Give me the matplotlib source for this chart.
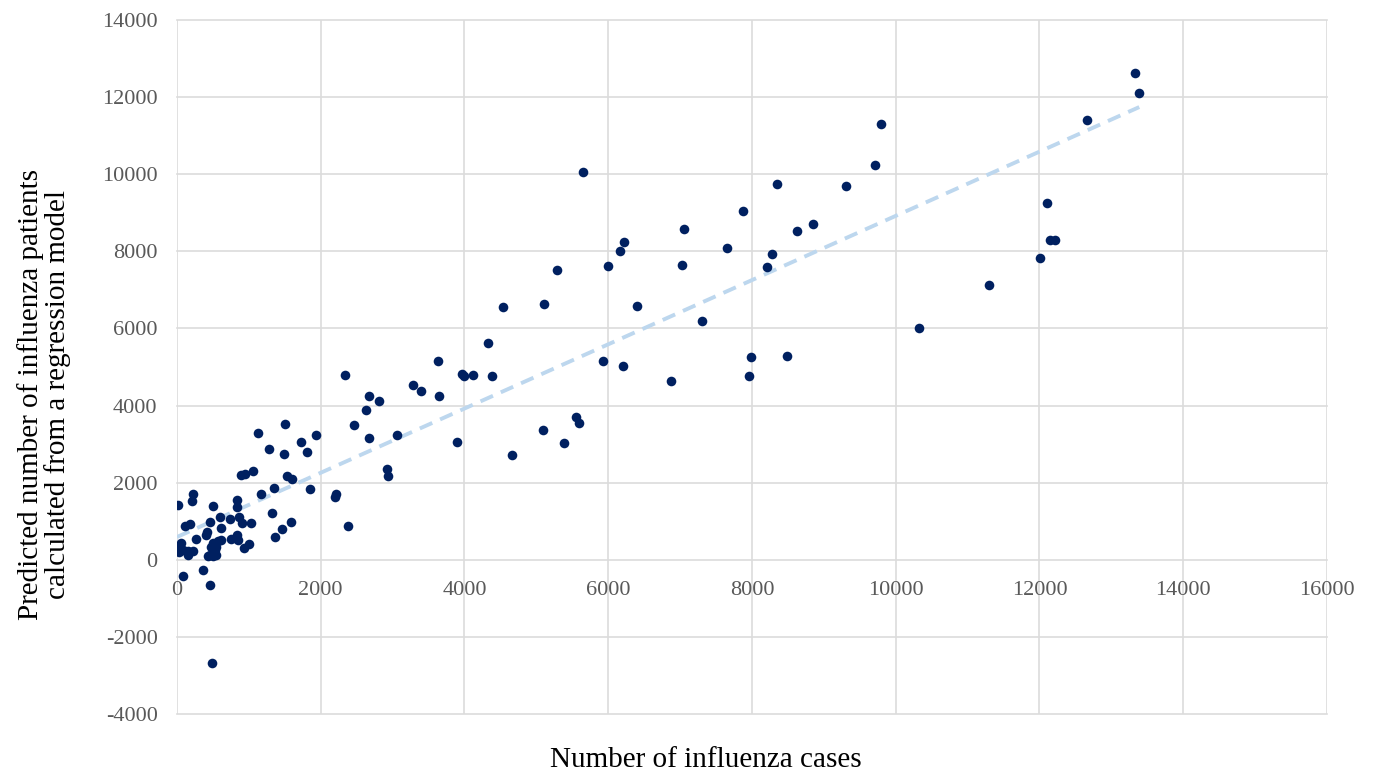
"""Scatter of influenza cases vs. regression-model predictions, with linear trendline."""

import matplotlib

matplotlib.use("Agg")

import matplotlib.pyplot as plt
import numpy as np

plt.rcParams["font.family"] = ["Liberation Serif", "DejaVu Serif"]
plt.rcParams["axes.unicode_minus"] = False

# observed number of influenza cases
cases = [
    20, 225, 215, 505, 830, 840, 605, 455, 735, 865, 1035, 905, 115, 178, 615, 420, 405, 268,
    60, 37, 85, 153, 225, 28, 157, 500, 570, 617, 475, 543, 524, 455, 501, 430, 538, 756, 835,
    849, 932, 1000, 1363, 1460, 1590, 1326, 1164, 1350, 83, 364, 462, 483, 890, 946, 1062, 1123,
    1280, 1503, 1493, 1526, 1596, 1730, 1804, 1934, 1850, 2198, 2212, 2375,
    2337, 2671, 2814, 2630, 2463, 2675, 3056, 2918, 2940, 3279, 3390, 3627, 3650, 3961, 3993,
    4114, 4378, 4323, 3900, 4657, 5097, 5384, 5547, 5593, 5931, 6210,
    5653, 5291, 6000, 6163, 6219, 7054, 7030, 7648, 7870, 8348, 8274, 8204, 8630, 8844, 9308,
    9707, 4540, 5110, 6400, 7309, 6877, 7981, 7962, 8491,
    13329, 13388, 12657, 9799, 12109, 12146, 12220, 12007, 11301, 10317,
]
# predicted number of patients from the regression model
predicted = [
    1410, 1700, 1520, 1400, 1550, 1370, 1120, 990, 1060, 1100, 960, 950, 885, 920, 820, 715, 650, 535,
    433, 303, 260, 215, 240, 190, 130, 433, 475, 519, 337, 337, 241, 130, 104, 100, 130, 536, 648,
    519, 295, 400, 580, 796, 968, 1215, 1708, 1850, -425, -259, -648, -2680, 2186, 2222, 2308, 3285,
    2879, 3527, 2741, 2160, 2108, 3042, 2793, 3224, 1841, 1616, 1704, 864,
    4780, 4253, 4123, 3872, 3493, 3156, 3242, 2360, 2160, 4520, 4390, 5143, 4235, 4816, 4754,
    4805, 4772, 5620, 3042, 2705, 3353, 3026, 3701, 3545, 5161, 5031,
    10055, 7503, 7632, 8014, 8239, 8584, 7658, 8084, 9043, 9733, 7928, 7590, 8532, 8696, 9699,
    10226, 6543, 6622, 6570, 6190, 4642, 5257, 4772, 5273,
    12622, 12093, 11393, 11299, 9258, 8299, 8299, 7832, 7114, 6009,
]

x_ticks = [0, 2000, 4000, 6000, 8000, 10000, 12000, 14000, 16000]
y_ticks = [-4000, -2000, 0, 2000, 4000, 6000, 8000, 10000, 12000, 14000]

x = np.array(cases, dtype=float)
y = np.array(predicted, dtype=float)
slope, intercept = np.polyfit(x, y, 1)
trend_x = np.array([0, x.max()])

fig = plt.figure(figsize=(13.74, 7.74), dpi=100)
ax = fig.add_axes([0.1288, 0.0775, 0.8370, 0.8967])

ax.plot(trend_x, intercept + slope * trend_x, color="#bdd7ee", linestyle=(0, (3.5, 2.2)),
        linewidth=2.8, zorder=2)
ax.scatter(x, y, s=48, color="#002060", linewidths=0, zorder=3)

ax.set_xlim(x_ticks[0], x_ticks[-1])
ax.set_ylim(y_ticks[0], y_ticks[-1])
ax.set_xticks(x_ticks)
ax.set_yticks(y_ticks)
ax.grid(True, color="#dcdcdc", linewidth=1.2, zorder=0)
ax.set_axisbelow(True)
for line in ax.get_xgridlines() + ax.get_ygridlines():
    line.set_clip_on(False)

for side in ("top", "right", "left"):
    ax.spines[side].set_visible(False)
# Excel style: x axis crosses at y = 0
ax.spines["bottom"].set_position(("data", 0))
ax.spines["bottom"].set_visible(False)
ax.tick_params(axis="both", length=0, labelsize=16, labelcolor="#595959")
ax.tick_params(axis="x", pad=15)
ax.tick_params(axis="y", pad=14)

fig.text(0.514, 0.018, "Number of influenza cases", ha="center", va="center", fontsize=21)
fig.text(0.032, 0.49, "Predicted number of influenza patients\ncalculated from a regression model",
         ha="center", va="center", rotation=90, fontsize=21, linespacing=1.0)

fig.savefig("out.png", dpi=100)
